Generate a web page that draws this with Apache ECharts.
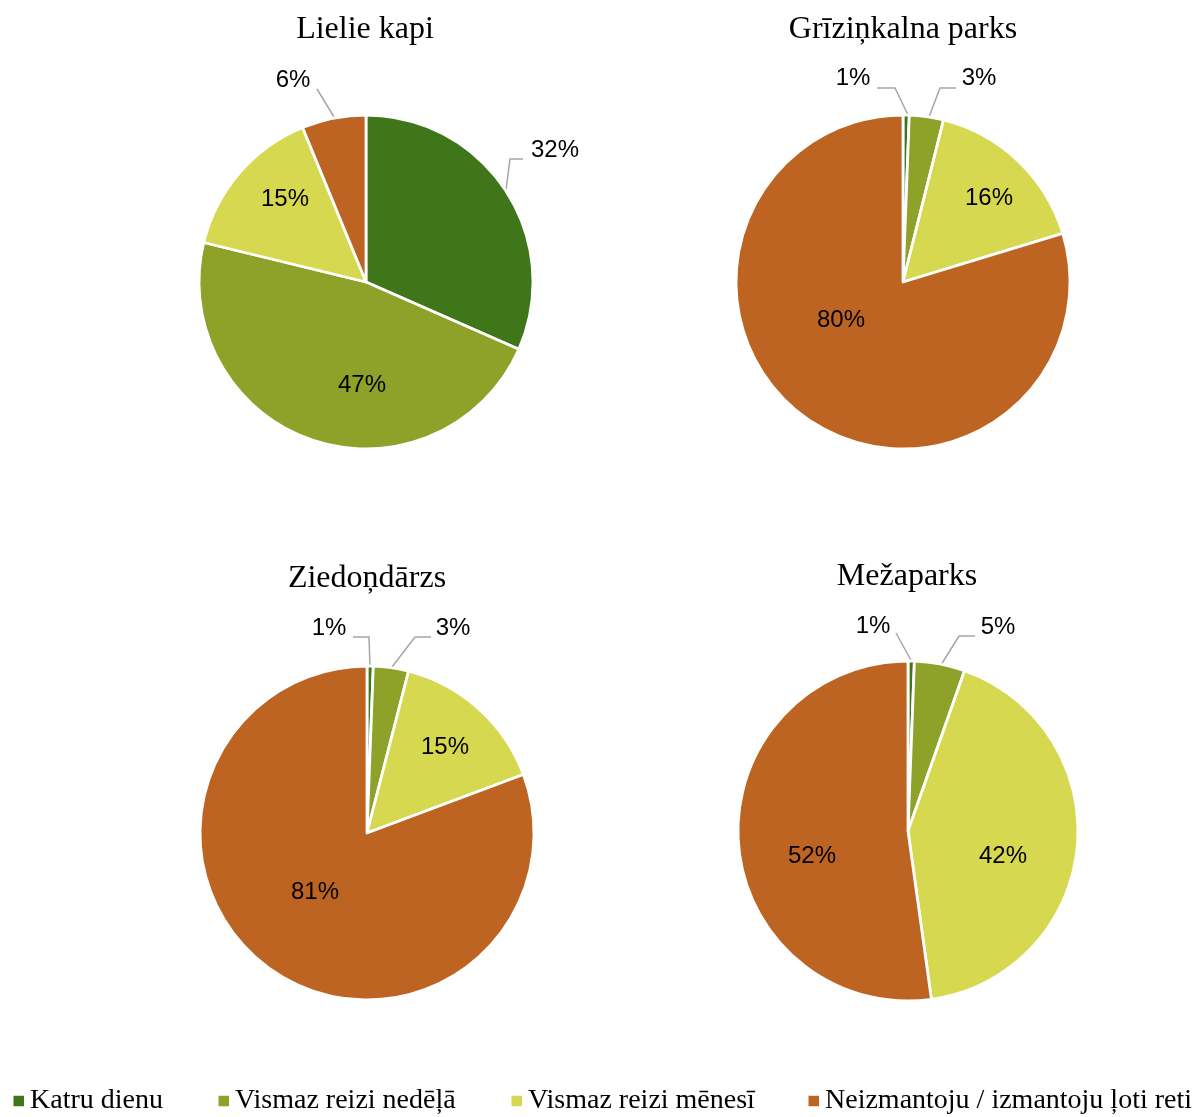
<!DOCTYPE html>
<html>
<head>
<meta charset="utf-8">
<script src="https://cdn.jsdelivr.net/npm/echarts@6/dist/echarts.min.js"></script>
<style>
html,body{margin:0;padding:0;background:#fff;}
#chart{width:1197px;height:1117px;}
</style>
</head>
<body>
<div id="chart"></div>
<script>
// ---- data ----
var categories = ['Katru dienu', 'Vismaz reizi nedēļā', 'Vismaz reizi mēnesī', 'Neizmantoju / izmantoju ļoti reti'];
var pieTitles = ['Lielie kapi', 'Grīziņkalna parks', 'Ziedoņdārzs', 'Mežaparks'];
var lielieKapi = [31.6, 47.2, 15.0, 6.2];
var grizinkalnaParks = [0.6, 3.3, 16.4, 79.7];
var ziedondarzs = [0.6, 3.4, 15.3, 80.7];
var mezaparks = [0.6, 4.8, 42.4, 52.2];
var allValues = [lielieKapi, grizinkalnaParks, ziedondarzs, mezaparks];

// ---- style / layout ----
var colors = ['#3F7619', '#8EA22A', '#D6D84F', '#BD6423'];
var centers = [[366, 282], [903, 282], [367, 833], [908, 831]];
var radii = [167, 167, 167, 170];
var titlePos = [[365, 30], [903, 30], [367, 579], [907, 577]];
var legendLeft = [11.5, 216.5, 509.5, 806.5];
// label placement per pie (offsets from pie centre), line points offsets
var labelCfg = [
  [ {o:[189,-132], line:[[140,-92],[144,-123],[157,-123]]},
    {o:[-4,103]},
    {o:[-81,-83]},
    {o:[-73,-202], line:[[-32,-165],[-49,-193]]} ],
  [ {o:[-50,-204], line:[[5,-167],[-8,-194],[-26,-194]]},
    {o:[76,-204], line:[[26,-165],[37,-194],[53,-194]]},
    {o:[86,-84]},
    {o:[-62,38]} ],
  [ {o:[-38,-205], line:[[3,-166],[2,-196],[-14,-196]]},
    {o:[86,-205], line:[[25,-166],[48,-196],[64,-196]]},
    {o:[78,-86]},
    {o:[-52,59]} ],
  [ {o:[-35,-205], line:[[4,-169],[-12,-198]]},
    {o:[90,-204], line:[[33,-166],[51,-195],[67,-195]]},
    {o:[95,25]},
    {o:[-96,25]} ]
];

var chart = echarts.init(document.getElementById('chart'), null, {renderer: 'canvas'});

var series = allValues.map(function (vals, si) {
  return {
    type: 'pie',
    name: pieTitles[si],
    center: centers[si],
    radius: [0, radii[si]],
    startAngle: 90,
    clockwise: true,
    avoidLabelOverlap: false,
    animation: false,
    itemStyle: {borderColor: '#ffffff', borderWidth: 2.8},
    emphasis: {disabled: true},
    label: {
      color: '#000000',
      fontFamily: 'Liberation Sans, Arial, sans-serif',
      fontSize: 24,
      formatter: function (p) { return Math.round(p.value) + '%'; }
    },
    labelLine: {show: true, lineStyle: {color: '#A6A6A6', width: 1.5}},
    labelLayout: function (params) {
      var cfg = labelCfg[params.seriesIndex][params.dataIndex];
      var c = centers[params.seriesIndex];
      var res = {x: c[0] + cfg.o[0], y: c[1] + cfg.o[1], align: 'center', verticalAlign: 'middle'};
      if (cfg.line) {
        res.labelLinePoints = cfg.line.map(function (pt) { return [c[0] + pt[0], c[1] + pt[1]]; });
      }
      return res;
    },
    data: vals.map(function (v, i) {
      var outside = !!labelCfg[si][i].line;
      return {
        name: categories[i],
        value: v,
        itemStyle: {color: colors[i]},
        label: {position: outside ? 'outside' : 'inside'},
        labelLine: {show: outside}
      };
    })
  };
});

var titles = pieTitles.map(function (t, i) {
  return {
    text: t,
    left: titlePos[i][0],
    top: titlePos[i][1],
    padding: 0,
    textAlign: 'center',
    textVerticalAlign: 'middle',
    textStyle: {fontFamily: 'Liberation Serif, Times New Roman, serif', fontSize: 32, fontWeight: 'normal', color: '#000000'}
  };
});

var legends = categories.map(function (c, i) {
  return {
    data: [c],
    left: legendLeft[i],
    top: 1087,
    padding: 0,
    orient: 'horizontal',
    icon: 'rect',
    itemWidth: 12.5,
    itemHeight: 12.5,
    selectedMode: false,
    textStyle: {fontFamily: 'Liberation Serif, Times New Roman, serif', fontSize: 28, color: '#000000', padding: [0, 0, 0, 0]}
  };
});

chart.setOption({
  animation: false,
  color: colors,
  title: titles,
  legend: legends,
  series: series
});
</script>
</body>
</html>
